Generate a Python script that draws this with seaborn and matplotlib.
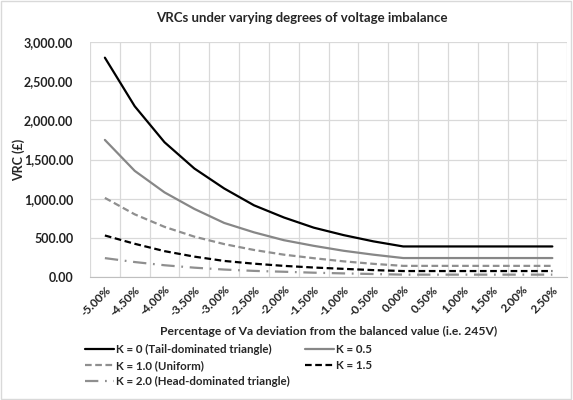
import pandas as pd
import matplotlib.pyplot as plt
import seaborn as sns

# x categories (deviation of Va)
deviation = ['-5.00%', '-4.50%', '-4.00%', '-3.50%', '-3.00%', '-2.50%', '-2.00%', '-1.50%',
             '-1.00%', '-0.50%', '0.00%', '0.50%', '1.00%', '1.50%', '2.00%', '2.50%']

# VRC values (£)
k0 = [2800, 2180, 1720, 1385, 1130, 915, 760, 630, 535, 455, 390, 390, 390, 390, 390, 390]
k05 = [1750, 1355, 1080, 869, 690, 570, 470, 398, 335, 285, 242, 242, 242, 242, 242, 242]
k10 = [1010, 800, 640, 515, 420, 345, 285, 240, 200, 168, 142, 142, 142, 142, 142, 142]
k15 = [530, 424, 330, 260, 205, 170, 142, 121, 104, 88, 76, 76, 76, 76, 76, 76]
k20 = [241, 191, 150, 119, 95, 78, 67, 55, 46, 38, 30, 30, 30, 30, 30, 30]

labels = ['K = 0 (Tail-dominated triangle)', 'K = 0.5', 'K = 1.0 (Uniform)',
          'K = 1.5', 'K = 2.0 (Head-dominated triangle)']

sns.set_style('white')
plt.rcParams['font.family'] = ['Lato', 'DejaVu Sans']

fig = plt.figure(figsize=(5.73, 4.0), dpi=100)
ax = fig.add_axes([0.157, 0.3075, 0.833, 0.5875])

series = [k0, k05, k10, k15, k20]
colors = ['black', '#878787', '#8f8f8f', 'black', '#8f8f8f']
dashes = [None, None, (3, 1.6), (3, 1.6), (6, 3, 0.8, 3)]
handles = []
for vals, lab, col, d in zip(series, labels, colors, dashes):
    df = pd.DataFrame({'x': deviation, 'y': vals})
    sns.lineplot(data=df, x='x', y='y', ax=ax, color=col, linewidth=1.6, label=lab, sort=False)
    line = ax.lines[-1]
    if d is not None:
        line.set_dashes(d)
    handles.append(line)

ax.set_xlim(-0.5, 15.5)
ax.set_ylim(0, 3000)
ax.set_yticks(range(0, 3001, 500))
ax.set_yticklabels([f'{v:,.2f}' for v in range(0, 3001, 500)], fontweight='bold', fontsize=9, color='#222222')
ax.set_xticks(range(len(deviation)))
ax.set_xticklabels(deviation, rotation=45, ha='right', rotation_mode='anchor', fontsize=8.5,
                   fontweight='bold', color='#222222')
ax.set_xticks([i + 0.5 for i in range(-1, 16)], minor=True)
ax.tick_params(axis='both', which='both', length=0)
ax.tick_params(axis='x', pad=5)
ax.tick_params(axis='y', pad=12)
ax.grid(False)
ax.grid(True, axis='y', color='#d9d9d9', linewidth=0.9)
ax.grid(True, axis='x', which='minor', color='#d9d9d9', linewidth=0.9)
ax.set_axisbelow(True)
for s in ['top', 'right', 'left']:
    ax.spines[s].set_visible(False)
ax.spines['bottom'].set_color('#bfbfbf')

ax.set_xlabel('Percentage of Va deviation from the balanced value (i.e. 245V)', fontweight='bold', fontsize=8.7, labelpad=6)
ax.set_ylabel('VRC (£)', fontweight='bold', fontsize=9)
ax.yaxis.set_label_coords(-0.137, 0.5)
fig.text(0.527, 0.955, 'VRCs under varying degrees of voltage imbalance', fontweight='bold', fontsize=9.5,
         ha='center', va='center')

ax.get_legend().remove()
order = [0, 2, 4, 1, 3]
fig.legend([handles[i] for i in order], [labels[i] for i in order], ncol=2, frameon=False,
           loc='upper left', bbox_to_anchor=(0.138, 0.155), prop={'weight': 'bold', 'size': 8.3},
           handlelength=2.5, handletextpad=0.2, columnspacing=1.3, labelspacing=0.45, borderpad=0)

fig.patches.append(plt.Rectangle((0.002, 0.003), 0.995, 0.994, transform=fig.transFigure,
                                 fill=False, edgecolor='#d9d9d9', linewidth=1))
fig.savefig('out.png', dpi=100)
